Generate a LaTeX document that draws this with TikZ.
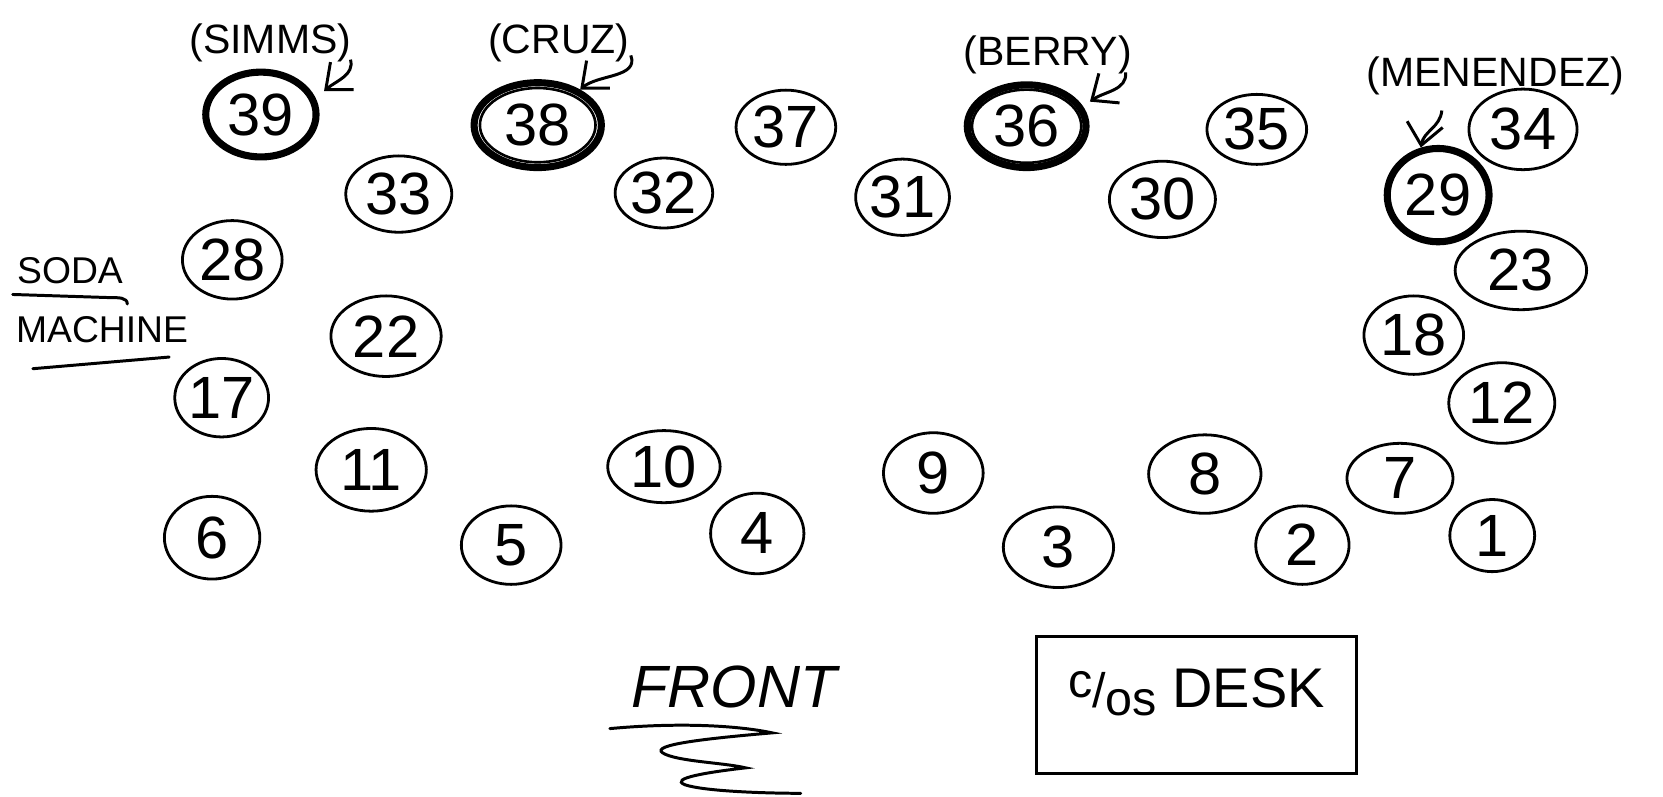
\documentclass[tikz,border=0pt]{standalone}
\usepackage{fontspec}
\setmainfont{Liberation Sans}
\usetikzlibrary{arrows.meta,shapes.geometric,positioning}
\tikzset{
  seat/.style={ellipse, draw, line width=0.75pt, inner sep=0pt, font=\fontsize{16}{16}\selectfont},
  marked seat/.style={seat, line width=1.9pt},
  inner ring/.style={line width=0.7pt},
  name tag/.style={inner sep=1pt, font=\fontsize{11}{11}\selectfont},
  room text/.style={inner sep=1pt, font=\fontsize{10}{10}\selectfont},
  pointer/.style={-{Straight Barb[length=2mm, width=3.4mm]}, line width=0.8pt},
  underline/.style={line width=0.8pt, line cap=round},
  desk box/.style={draw, line width=0.8pt, inner sep=0pt, minimum width=30.2mm,
    text height=6.7mm, text depth=6.2mm, font=\fontsize{15}{15}\selectfont},
}

\begin{document}
\begin{tikzpicture}[x=0.1mm, y=-0.1mm]
  \useasboundingbox (0,0) rectangle (1568,751);

  % Seats
  \foreach \n/\x/\y/\w/\h in {
    37/741/120/9.4/7.0, 35/1185/122/9.4/6.6, 34/1436/122/10.2/7.6,
    33/376/183/10/7.2, 32/626/182/9.2/6.6, 31/851/186/8.6/7.2, 30/1096/188/10/7.2,
    28/219/245/9.4/7.4, 23/1434/255/12.4/7.4, 22/364/317/10.4/7.6, 18/1333/316/9.4/7.4,
    17/209/375/8.4/7.4, 12/1416/380/10/7.6, 11/350/443/10.4/7.8,
    10/626/440/10.6/6.8, 9/880/446/9.4/7.6, 8/1136/447/10.6/7.4, 7/1320/451/10/6.6,
    6/200/507/9/7.8, 5/482/514/9.4/7.4, 4/714/503/8.8/7.6, 3/998/516/10.4/7.6,
    2/1228/514/8.8/7.4, 1/1407/505/8/6.8} {
    \node[seat, minimum width=\w mm, minimum height=\h mm] (s\n) at (\x,\y) {\n};
  }

  % Circled seats
  \node[marked seat, minimum width=10.4mm, minimum height=8mm] (s39) at (246,108) {39};
  \node[marked seat, minimum width=12mm, minimum height=8mm] (s38) at (507,118) {38};
  \node[marked seat, minimum width=11.2mm, minimum height=7.8mm] (s36) at (968,119) {36};
  \node[marked seat, minimum width=9.6mm, minimum height=8.8mm] (s29) at (1356,184) {29};
  \draw[inner ring] (s38.center) ellipse [x radius=5.45mm, y radius=3.5mm];
  \draw[inner ring] (s36.center) ellipse [x radius=5.15mm, y radius=3.45mm];

  % Names
  \node[name tag] (simms) at (255,40) {(SIMMS)};
  \node[name tag] (cruz) at (527,40) {(CRUZ)};
  \node[name tag] (berry) at (988,52) {(BERRY)};
  \node[name tag] (menendez) at (1410,72) {(MENENDEZ)};
  \draw[pointer] ([shift={(-0.5mm,0.6mm)}]simms.south east) to[out=-75, in=40] ([xshift=1.2mm]s39.25);
  \draw[pointer] ([shift={(-0.3mm,1mm)}]cruz.south east) to[out=-70, in=40] (s38.40);
  \draw[pointer] ([shift={(-1mm,0.6mm)}]berry.south east) to[out=-85, in=35] ([xshift=1mm]s36.25);
  \draw[pointer] ([shift={(7.5mm,-1mm)}]menendez.south west) to[out=-95, in=80] (s29.110);

  % Soda machine
  \node[room text, anchor=west] (soda) at (12,255) {SODA};
  \node[room text, anchor=west] (machine) at (11,311) {MACHINE};
  \draw[underline] ([yshift=-0.6mm]soda.south west) -- ([shift={(-1.5mm,-0.9mm)}]soda.south east)
    to[out=0, in=90] ([shift={(0mm,-1.5mm)}]soda.south east);
  \draw[underline] ([shift={(2mm,-2mm)}]machine.south west) -- ([shift={(-2.2mm,-0.9mm)}]machine.south east);

  % Front
  \node[inner sep=1pt, font=\fontsize{16}{16}\selectfont\itshape] (front) at (692,648) {FRONT};
  \draw[underline] (575,687) .. controls (640,681) and (695,684) .. (728,691)
    .. controls (670,696) and (612,702) .. (625,710)
    .. controls (638,718) and (682,719) .. (703,724)
    .. controls (668,728) and (630,734) .. (646,740)
    .. controls (664,746) and (720,748) .. (755,748);

  % Desk
  \node[desk box] (desk) at (1128,665)
    {{\fontsize{13}{13}\selectfont\raisebox{.4ex}{c}/\raisebox{-.3ex}{os}} DESK};
\end{tikzpicture}
\end{document}
